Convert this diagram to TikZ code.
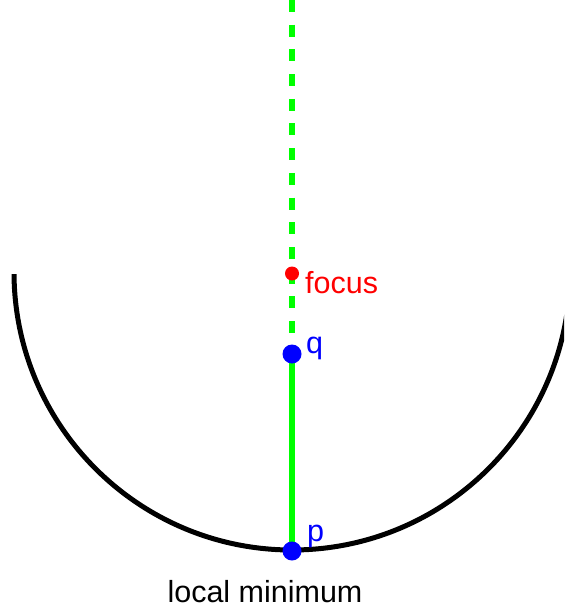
\documentclass[tikz,border=0pt]{standalone}
\usepackage{fontspec}
\setmainfont{Liberation Sans}
\usetikzlibrary{positioning,backgrounds}
\definecolor{raygreen}{HTML}{00FF00}
\definecolor{ptblue}{HTML}{0000FF}
\definecolor{focusred}{HTML}{FF0000}
\tikzset{
  bowl/.style={draw=black,line width=5pt},
  ray/.style={draw=raygreen,line width=6pt},
  dot/.style={circle,fill=#1,inner sep=0pt,minimum size=19pt},
  tag/.style={font=\fontsize{30.5}{34}\selectfont,inner sep=0pt,anchor=base west}}

\begin{document}
\begin{tikzpicture}[x=1pt,y=-1pt]
\useasboundingbox (0,0) rectangle (564,612);
\coordinate (ctr) at (292,272);
\coordinate (top) at (292,0);
\node[dot=focusred,minimum size=14pt] (focus) at (292,273.5) {};
\node[dot=ptblue] (q) at (292,354) {};
\node[dot=ptblue] (p) at (292,551) {};
\begin{scope}[on background layer]
\begin{scope}
\clip (0,274) rectangle (564,612);
\draw[bowl] (ctr) circle[radius=278];
\end{scope}
\draw[ray,dash pattern=on 12pt off 12.7pt] (top) -- (q.center);
\draw[ray] (q.center) -- (p.center);
\end{scope}
% labels
\node[tag,text=focusred] (focuslbl) at (305,293) {focus};
\node[tag,text=ptblue] (qlbl) at (306,353) {q};
\node[tag,text=ptblue] (plbl) at (307,541.5) {p};
\node[tag,anchor=base] (minlbl) at (265,602) {local minimum};
\end{tikzpicture}
\end{document}
